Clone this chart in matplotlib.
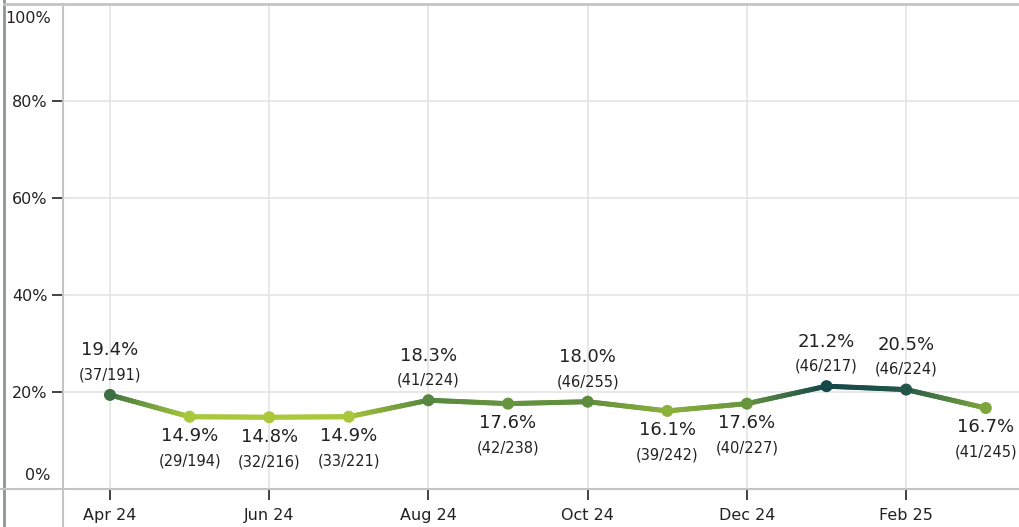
import numpy as np
import matplotlib
matplotlib.use('Agg')
import matplotlib.pyplot as plt
from matplotlib.collections import LineCollection
from matplotlib.colors import LinearSegmentedColormap, Normalize
from matplotlib.lines import Line2D

months = ['Apr 24', 'May 24', 'Jun 24', 'Jul 24', 'Aug 24', 'Sep 24',
          'Oct 24', 'Nov 24', 'Dec 24', 'Jan 25', 'Feb 25', 'Mar 25']
rates = [19.4, 14.9, 14.8, 14.9, 18.3, 17.6, 18.0, 16.1, 17.6, 21.2, 20.5, 16.7]
hits = [37, 29, 32, 33, 41, 42, 46, 39, 40, 46, 46, 41]
totals = [191, 194, 216, 221, 224, 238, 255, 242, 227, 217, 224, 245]
label_above = [True, False, False, False, True, False, True, False, False, True, True, False]

plt.rcParams['font.family'] = ['DejaVu Sans']

cmap = LinearSegmentedColormap.from_list('grn', ['#abc83a', '#5e8d3f', '#14474a'])
norm = Normalize(vmin=min(rates), vmax=max(rates))

W, H = 1020, 527
fig = plt.figure(figsize=(W / 100, H / 100), dpi=100)
ax = fig.add_axes([63 / W, (H - 489) / H, (W - 63) / W, (489 - 4) / H])

x = np.arange(len(months))
y = np.array(rates)

# gradient line, each segment split in small pieces for smooth colour change
segs, cols = [], []
for i in range(len(x) - 1):
    t = np.linspace(0, 1, 30)
    xs = x[i] + (x[i + 1] - x[i]) * t
    ys = y[i] + (y[i + 1] - y[i]) * t
    pts = np.column_stack([xs, ys])
    for j in range(len(t) - 1):
        segs.append(pts[j:j + 2])
        cols.append(cmap(norm((ys[j] + ys[j + 1]) / 2)))
lc = LineCollection(segs, colors=cols, linewidths=3.6, capstyle='round', zorder=3)
ax.add_collection(lc)
ax.scatter(x, y, s=75, c=[cmap(norm(v)) for v in y], zorder=4, linewidths=0)

txt = '#222222'
for xi, yi, h, t, up in zip(x, y, hits, totals, label_above):
    if up:
        ax.annotate(f'{yi:.1f}%', (xi, yi), xytext=(0, 32), textcoords='offset points',
                    ha='center', va='center', fontsize=13, color=txt)
        ax.annotate(f'({h}/{t})', (xi, yi), xytext=(0, 14.5), textcoords='offset points',
                    ha='center', va='center', fontsize=10.5, color=txt)
    else:
        ax.annotate(f'{yi:.1f}%', (xi, yi), xytext=(0, -14), textcoords='offset points',
                    ha='center', va='center', fontsize=13, color=txt)
        ax.annotate(f'({h}/{t})', (xi, yi), xytext=(0, -32), textcoords='offset points',
                    ha='center', va='center', fontsize=10.5, color=txt)

ax.set_xlim(-0.59, 11.43)
ax.set_ylim(0, 100)

ax.set_xticks(x[::2])
ax.set_xticklabels(months[::2], fontsize=11.5, color=txt)
ax.tick_params(axis='x', length=8, width=1.2, color=txt, pad=6)
ax.set_yticks([20, 40, 60, 80])
ax.set_yticklabels(['20%', '40%', '60%', '80%'], fontsize=11.5, color=txt)
ax.tick_params(axis='y', length=8, width=1.2, color=txt, pad=3)
ax.text(-0.013, 0.012, '0%', transform=ax.transAxes, ha='right', va='bottom',
        fontsize=11.5, color=txt)
ax.text(-0.013, 0.985, '100%', transform=ax.transAxes, ha='right', va='top',
        fontsize=11.5, color=txt)

ax.grid(True, color='#e4e4e4', linewidth=1.2, zorder=0)
ax.set_axisbelow(True)
for s in ['top', 'right', 'left', 'bottom']:
    ax.spines[s].set_visible(False)

# frame lines of the view
fig.add_artist(Line2D([4 / W, 4 / W], [0, 1], color='#8a9696', linewidth=2))
fig.add_artist(Line2D([4 / W, 1], [(H - 4) / H, (H - 4) / H], color='#c4c4c4', linewidth=2))
fig.add_artist(Line2D([63 / W, 63 / W], [0, (H - 4) / H], color='#c4c4c4', linewidth=1.5))
fig.add_artist(Line2D([0, 1], [(H - 489) / H, (H - 489) / H], color='#c4c4c4', linewidth=1.5))

fig.savefig('out.png', dpi=100, facecolor='white')
